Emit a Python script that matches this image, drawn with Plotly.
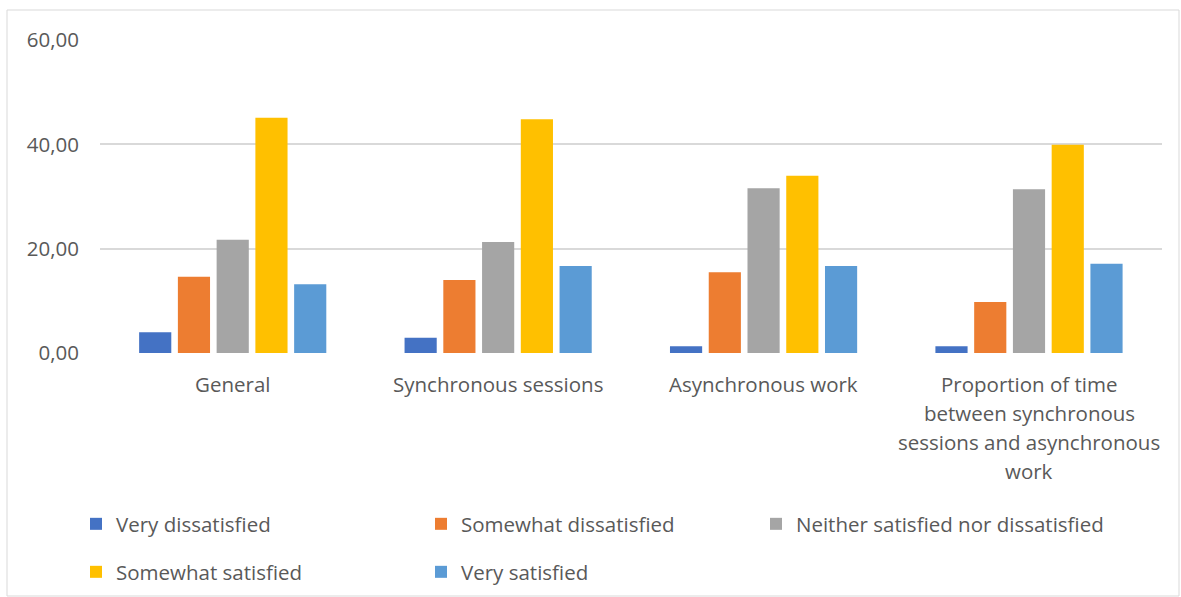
import plotly.graph_objects as go

categories = ["General", "Synchronous sessions", "Asynchronous work",
              "Proportion of time between synchronous sessions and asynchronous work"]
category_lines = [["General"], ["Synchronous sessions"], ["Asynchronous work"],
                  ["Proportion of time", "between synchronous", "sessions and asynchronous", "work"]]

series_names = ["Very dissatisfied", "Somewhat dissatisfied", "Neither satisfied nor dissatisfied",
                "Somewhat satisfied", "Very satisfied"]
very_dissatisfied = [4.0, 2.9, 1.3, 1.3]
somewhat_dissatisfied = [14.6, 14.0, 15.5, 9.8]
neither = [21.7, 21.3, 31.6, 31.4]
somewhat_satisfied = [45.1, 44.8, 34.0, 39.9]
very_satisfied = [13.2, 16.7, 16.7, 17.1]
series_values = [very_dissatisfied, somewhat_dissatisfied, neither, somewhat_satisfied, very_satisfied]
colors = ["#4472C4", "#ED7D31", "#A5A5A5", "#FFC000", "#5B9BD5"]
legend_ids = ["legend", "legend", "legend3", "legend2", "legend2"]

y_ticks = [0, 20, 40, 60]

FONT = "Open Sans"
FS = 20.5
TXT = "#595959"

fig = go.Figure()
for name, vals, col, lg in zip(series_names, series_values, colors, legend_ids):
    fig.add_trace(go.Bar(x=categories, y=vals, name=name, marker=dict(color=col, line=dict(width=0)),
                         legend=lg))

# plot area geometry (pixels)
W, H = 1181, 597
L, R, T, B = 100, 19, 40, 244
ph = H - T - B

annotations = []
line_px = 29
first_line_px = 384
for cat, lines in zip(categories, category_lines):
    for i, ln in enumerate(lines):
        ypix = first_line_px + i * line_px
        annotations.append(dict(x=cat, xref="x", y=(H - B - ypix) / ph, yref="paper",
                                text=ln, showarrow=False, yanchor="middle", xanchor="center",
                                font=dict(family=FONT, size=FS, color=TXT)))

legend_common = dict(orientation="h", xref="container", yref="container", xanchor="left",
                     yanchor="middle", entrywidth=300, entrywidthmode="pixels",
                     font=dict(family=FONT, size=FS, color=TXT), bgcolor="rgba(0,0,0,0)",
                     borderwidth=0)

fig.update_layout(
    width=W, height=H,
    margin=dict(l=L, r=R, t=T, b=B, autoexpand=False),
    paper_bgcolor="white", plot_bgcolor="white",
    separators=",.",
    barmode="group", bargap=0.27, bargroupgap=0.17,
    font=dict(family=FONT, size=FS, color=TXT),
    xaxis=dict(showticklabels=False, showgrid=False, zeroline=False, showline=False, ticks=""),
    yaxis=dict(range=[0, 60], tickvals=y_ticks, tickformat=".2f", showgrid=True,
               gridcolor="#D9D9D9", gridwidth=1.5, zeroline=False, showline=False,
               ticklabelstandoff=20, tickfont=dict(family=FONT, size=FS, color=TXT)),
    legend=dict(x=76 / W, y=1 - 524 / H, **legend_common),
    legend3=dict(x=(76 + 2 * 340) / W, y=1 - 524 / H, **legend_common),
    legend2=dict(x=76 / W, y=1 - 572 / H, **legend_common),
    annotations=annotations,
    shapes=[dict(type="rect", xref="paper", yref="paper",
                 x0=(7 - L) / (W - L - R), x1=(1179 - L) / (W - L - R),
                 y0=(H - B - 596) / ph, y1=(H - B - 10) / ph,
                 line=dict(color="#D9D9D9", width=1), fillcolor="rgba(0,0,0,0)", layer="below")],
)
fig.update_layout(legend3=dict(entrywidth=340))

fig.write_html("out.html")
